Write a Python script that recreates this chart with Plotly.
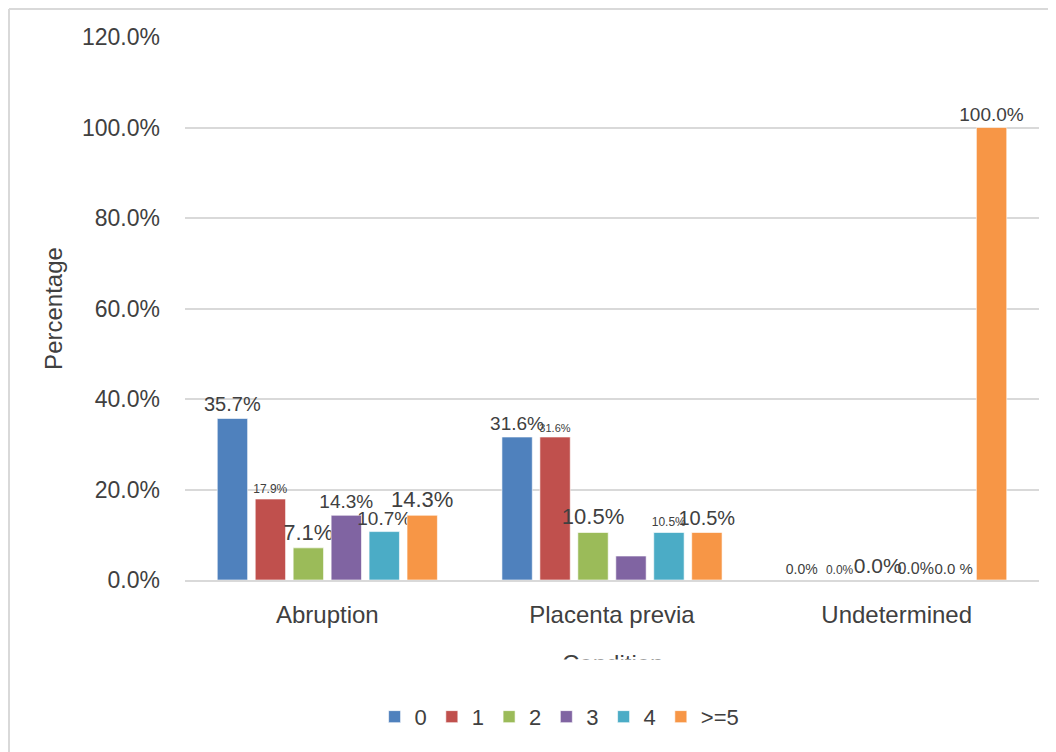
import plotly.graph_objects as go

conditions = ["Abruption", "Placenta previa", "Undetermined"]
groups = ["0", "1", "2", "3", "4", ">=5"]
colors = ["#4f81bd", "#c0504d", "#9bbb59", "#8064a2", "#4bacc6", "#f79646"]

# percentage per group (rows) for each condition (columns)
values = {
    "0": [0.357, 0.316, 0.0],
    "1": [0.179, 0.316, 0.0],
    "2": [0.071, 0.105, 0.0],
    "3": [0.143, 0.053, 0.0],
    "4": [0.107, 0.105, 0.0],
    ">=5": [0.143, 0.105, 1.0],
}
labels = {
    "0": ["35.7%", "31.6%", "0.0%"],
    "1": ["17.9%", "31.6%", "0.0%"],
    "2": ["7.1%", "10.5%", "0.0%"],
    "3": ["14.3%", "", "0.0%"],
    "4": ["10.7%", "10.5%", "0.0 %"],
    ">=5": ["14.3%", "10.5%", "100.0%"],
}
label_sizes = {
    "0": [20, 19, 14],
    "1": [12, 11, 12],
    "2": [22, 22, 21],
    "3": [19, 19, 16],
    "4": [19, 12, 15],
    ">=5": [22, 20, 19],
}

font = "Liberation Sans, Arial, sans-serif"
grey = "#404040"

fig = go.Figure()
for g, c in zip(groups, colors):
    fig.add_trace(go.Bar(
        x=conditions, y=values[g], name=g,
        marker=dict(color=c, line=dict(color="rgba(255,255,255,0.6)", width=1)),
        text=labels[g], textposition="outside",
        textfont=dict(size=label_sizes[g], color=grey, family=font),
        constraintext="none", cliponaxis=False,
    ))

fig.update_layout(
    width=1056, height=752,
    margin=dict(l=177, r=25, t=29, b=180),
    paper_bgcolor="white", plot_bgcolor="white",
    barmode="group", bargap=0.2, bargroupgap=0.2,
    font=dict(family=font, size=20, color=grey),
    showlegend=True,
    legend=dict(orientation="h", x=0.222, xanchor="left", y=-0.252, yanchor="middle",
                font=dict(size=22, color=grey), itemwidth=30, traceorder="normal"),
    yaxis=dict(range=[0, 1.2], dtick=0.2, tickformat=".1%", showgrid=True,
               gridcolor="#d9d9d9", gridwidth=2, zeroline=False, showline=False,
               tickfont=dict(size=23, color=grey), ticklabelstandoff=24,
               title=dict(text="Percentage", font=dict(size=24, color=grey), standoff=12)),
    xaxis=dict(showline=True, linecolor="#d9d9d9", linewidth=2,
               tickfont=dict(size=24, color=grey), ticklabelstandoff=12),
    shapes=[
        dict(type="line", xref="paper", yref="paper", x0=-0.2061, x1=1.05, y0=1.0516, y1=1.0516,
             line=dict(color="#d9d9d9", width=2)),
        dict(type="line", xref="paper", yref="paper", x0=-0.2061, x1=-0.2061, y0=1.0516, y1=-0.35,
             line=dict(color="#d9d9d9", width=2)),
    ],
    annotations=[
        dict(text="Condition", xref="paper", yref="paper", x=0.5, y=-0.153, yanchor="middle",
             showarrow=False, font=dict(size=24, color=grey)),
        dict(text=" ", xref="paper", yref="paper", x=0.5, y=-0.175, yanchor="middle",
             showarrow=False, bgcolor="white", width=220, height=28),
    ],
)

fig.write_html("out.html")
